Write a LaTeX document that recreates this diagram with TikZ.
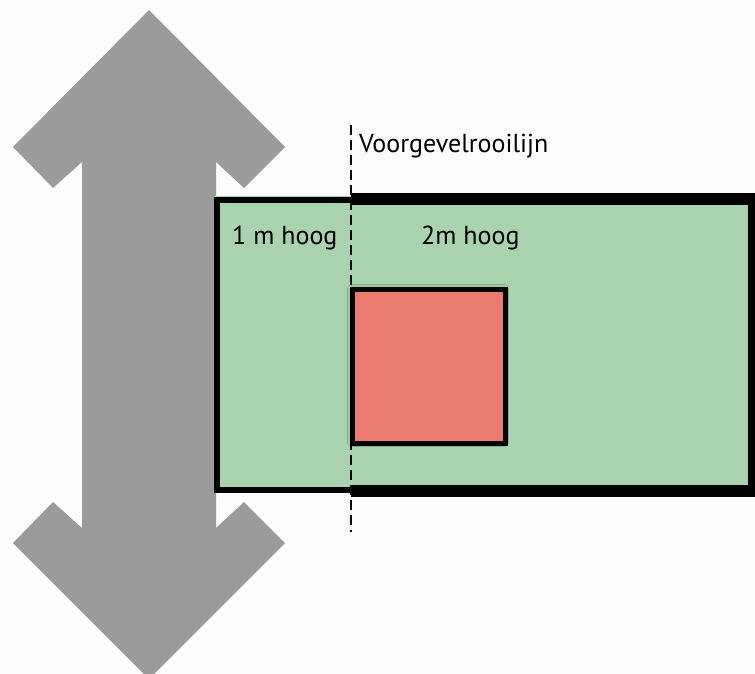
\documentclass[tikz,border=0pt]{standalone}
\usepackage{fontspec}
\setmainfont{PT Sans}
\usetikzlibrary{shadows.blur}
\definecolor{pijlgrijs}{HTML}{9B9B9B}
\definecolor{tuingroen}{HTML}{A9D3AF}
\definecolor{huisrood}{HTML}{EC7B70}
\begin{document}
\begin{tikzpicture}[x=1pt,y=-1pt]

    \tikzset{labelstyle/.style={anchor=base west,inner sep=0pt,font=\fontsize{26}{30}\selectfont}}
    \useasboundingbox (0,0) rectangle (755,674);
    \clip (0,0) rectangle (755,674);
    \fill[white!99!black] (0,0) rectangle (755,674);

    % dubbele pijl
    \fill[pijlgrijs] (149,10) -- (285,147) -- (244,188) -- (216,162) -- (216,528)
        -- (244,502) -- (285,543) -- (149,679) -- (13,543) -- (53,502) -- (82,528)
        -- (82,162) -- (53,188) -- (13,147) -- cycle;

    % tuin
    \fill[tuingroen] (214,196) rectangle (351,493);
    \fill[tuingroen] (351,193) rectangle (755,497);
    \draw[line width=6pt] (351,199.5) -- (216.5,199.5) -- (216.5,490) -- (351,490);
    \draw[line width=12pt] (351,199) -- (754,199) -- (754,491) -- (351,491);

    \coordinate (rooitop) at (351,125);
    \coordinate (rooibot) at (351,532);
    \draw[line width=1.5pt,dash pattern=on 10pt off 5pt] (rooitop) -- (rooibot);

    % woning
    \draw[line width=5pt,fill=huisrood,blur shadow={shadow xshift=-1pt,shadow yshift=1pt,shadow blur radius=4pt,shadow opacity=35}]
        (352.5,289.5) rectangle (505.5,443.5);

    \node[labelstyle] (rooilijn) at (359,153) {Voorgevelrooilijn};
    \node[labelstyle] (laag) at (232,244) {1 m hoog};
    \node[labelstyle] (hoog) at (421,244) {2m hoog};
\end{tikzpicture}
\end{document}
